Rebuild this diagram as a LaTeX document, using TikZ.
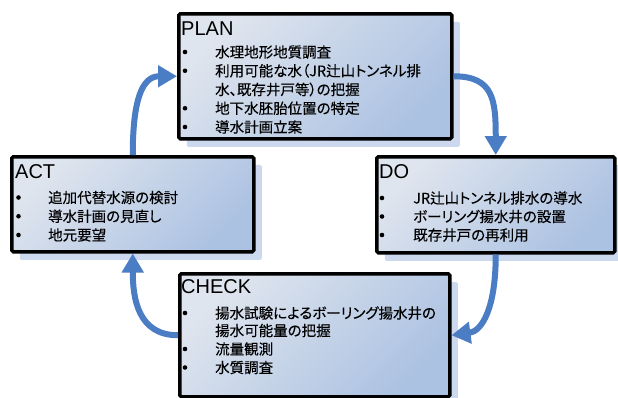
\documentclass[tikz,border=0pt]{standalone}
\usepackage{fontspec}
\setmainfont{Liberation Sans}
\newfontfamily\jp[RawFeature=+palt,FakeBold=0.25]{Noto Sans CJK JP}
\usetikzlibrary{arrows.meta,shadows}
\definecolor{arrowblue}{HTML}{4A7DC4}
\definecolor{shadowblue}{HTML}{CBD8EE}
\definecolor{boxtop}{HTML}{DFE5EE}
\definecolor{boxbot}{HTML}{ACC2E2}
\begin{document}
\begin{tikzpicture}[x=1pt,y=-1pt,
  pdcabox/.style={draw=black,line width=3.5pt,rounded corners=1.5pt,
    top color=boxtop,bottom color=boxbot,shading angle=45,inner sep=0pt,
    anchor=north west,
    drop shadow={shadow xshift=8pt,shadow yshift=-8pt,fill=shadowblue,opacity=1,draw=none}},
  ttl/.style={anchor=base west,inner sep=0pt,font=\fontsize{20}{24}\selectfont},
  bul/.style={circle,fill=black,inner sep=0pt,minimum size=4.6pt,yshift=5.5pt},
  itm/.style={anchor=base west,inner sep=0pt,font=\fontsize{14.5}{18}\selectfont\jp},
  cyc/.style={draw=arrowblue,line width=6pt,-{Triangle[width=21pt,length=19pt]}}
]
\useasboundingbox (0,0) rectangle (618,397);

% boxes
\node[pdcabox,minimum width=273pt,minimum height=125pt] (plan) at (177,12) {};
\node[pdcabox,minimum width=242pt,minimum height=95pt] (act) at (10,155) {};
\node[pdcabox,minimum width=238pt,minimum height=96pt] (do) at (375,155) {};
\node[pdcabox,minimum width=270pt,minimum height=123pt] (check) at (178,272) {};

% PLAN
\node[ttl] (plant) at (181,35) {PLAN};
\node[bul] (pb1) at (185,57.5) {};
\node[itm] (pi1) at (215,57.5) {水理地形地質調査};
\node[bul] (pb2) at (185,76.25) {};
\node[itm] (pi2) at (215,76.25) {利用可能な水（JR辻山トンネル排};
\node[itm] (pi2b) at (215,95) {水、既存井戸等）の把握};
\node[bul] (pb3) at (185,113.75) {};
\node[itm] (pi3) at (215,113.75) {地下水胚胎位置の特定};
\node[bul] (pb4) at (185,132.5) {};
\node[itm] (pi4) at (215,132.5) {導水計画立案};

% ACT
\node[ttl] (actt) at (15,178) {ACT};
\node[bul] (ab1) at (18.5,203) {};
\node[itm] (ai1) at (48,203) {追加代替水源の検討};
\node[bul] (ab2) at (18.5,221.75) {};
\node[itm] (ai2) at (48,221.75) {導水計画の見直し};
\node[bul] (ab3) at (18.5,240.5) {};
\node[itm] (ai3) at (48,240.5) {地元要望};

% DO
\node[ttl] (dot) at (379,178) {DO};
\node[bul] (db1) at (382,203.5) {};
\node[itm] (di1) at (413,203.5) {JR辻山トンネル排水の導水};
\node[bul] (db2) at (382,222) {};
\node[itm] (di2) at (413,222) {ボーリング揚水井の設置};
\node[bul] (db3) at (382,240.5) {};
\node[itm] (di3) at (413,240.5) {既存井戸の再利用};

% CHECK
\node[ttl] (checkt) at (181,293.5) {CHECK};
\node[bul] (cb1) at (185,318.5) {};
\node[itm] (ci1) at (215,318.5) {揚水試験によるボーリング揚水井の};
\node[itm] (ci1b) at (215,336) {揚水可能量の把握};
\node[bul] (cb2) at (185,354.5) {};
\node[itm] (ci2) at (215,354.5) {流量観測};
\node[bul] (cb3) at (185,373) {};
\node[itm] (ci3) at (215,373) {水質調査};

% cycle arrows
\draw[cyc] (plan.east) .. controls +(40,0) and +(0,-55) .. (do.north);
\draw[cyc] (do.south) .. controls +(0,55) and +(30,-4) .. (check.east);
\draw[cyc] (check.west) .. controls +(-40,0) and +(0,45) .. (act.south);
\draw[cyc] (act.north) .. controls +(0,-55) and +(-35,0) .. (plan.west);
\end{tikzpicture}
\end{document}
